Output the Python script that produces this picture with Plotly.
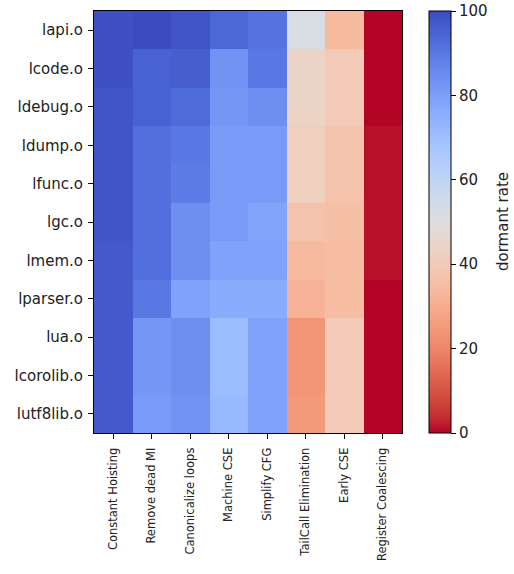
import plotly.graph_objects as go

files = ["lapi.o", "lcode.o", "ldebug.o", "ldump.o", "lfunc.o", "lgc.o",
         "lmem.o", "lparser.o", "lua.o", "lcorolib.o", "lutf8lib.o"]
passes = ["Constant Hoisting", "Remove dead MI", "Canonicalize loops", "Machine CSE",
          "Simplify CFG", "TailCall Elimination", "Early CSE", "Register Coalescing"]

constant_hoisting = [99, 99, 98, 98, 98, 98, 97, 97, 97, 97, 97]
remove_dead_mi = [100, 95, 95, 92, 92, 92, 92, 90, 82, 82, 81]
canonicalize_loops = [98, 96, 93, 90, 89, 84, 84, 79, 84, 84, 83]
machine_cse = [94, 83, 82, 81, 81, 81, 79, 76, 71, 71, 72]
simplify_cfg = [91, 90, 84, 81, 81, 78, 79, 76, 79, 79, 79]
tailcall_elim = [52, 44, 44, 42, 42, 37, 34, 32, 24, 24, 25]
early_cse = [34, 40, 40, 37, 37, 36, 35, 35, 40, 40, 40]
register_coalescing = [0, 0, 0, 1, 1, 1, 1, 0, 0, 0, 0]

columns = [constant_hoisting, remove_dead_mi, canonicalize_loops, machine_cse,
           simplify_cfg, tailcall_elim, early_cse, register_coalescing]
z = [[col[i] for col in columns] for i in range(len(files))]

coolwarm = [
    (59, 76, 192), (68, 90, 204), (77, 104, 215), (87, 117, 225), (98, 130, 234),
    (108, 142, 241), (119, 154, 247), (130, 165, 251), (141, 176, 254), (152, 185, 255),
    (163, 194, 255), (174, 201, 253), (184, 208, 249), (194, 213, 244), (204, 217, 238),
    (213, 219, 230), (221, 221, 221), (229, 216, 209), (236, 211, 197), (241, 204, 185),
    (245, 196, 173), (247, 187, 160), (247, 177, 148), (247, 166, 135), (244, 154, 123),
    (241, 141, 111), (236, 127, 99), (229, 112, 88), (222, 96, 77), (213, 80, 66),
    (203, 62, 56), (192, 40, 47), (180, 4, 38)]
coolwarm_r = list(reversed(coolwarm))
n = len(coolwarm_r)
colorscale = [[i / (n - 1), "rgb(%d,%d,%d)" % c] for i, c in enumerate(coolwarm_r)]

fig = go.Figure(go.Heatmap(
    z=z, x=passes, y=files, zmin=0, zmax=100, colorscale=colorscale,
    colorbar=dict(
        x=(429 - 94) / 308, xanchor="left", xref="paper", xpad=0,
        y=0.5, yanchor="middle", len=1, lenmode="fraction", ypad=0,
        thickness=22, thicknessmode="pixels",
        outlinewidth=1, outlinecolor="black",
        tickvals=[0, 20, 40, 60, 80, 100], ticks="outside", ticklen=5,
        tickcolor="black", tickfont=dict(size=15, color="#222"),
    ),
))

fig.add_annotation(
    text="dormant rate", textangle=-90, showarrow=False,
    xref="paper", yref="paper", x=(503 - 94) / 308, y=0.5,
    xanchor="center", yanchor="middle",
    font=dict(size=15, color="#222"),
)

fig.update_layout(
    width=514, height=574,
    margin=dict(l=94, r=112, t=11, b=141),
    paper_bgcolor="white", plot_bgcolor="white",
    font=dict(family="DejaVu Sans", color="#222"),
)
fig.update_xaxes(
    range=[-0.5, 7.5], tickangle=-90, tickfont=dict(size=11.5),
    ticks="outside", ticklen=5, tickcolor="black", ticklabelstandoff=4,
    showline=True, linecolor="black", linewidth=1, mirror=True, showgrid=False,
)
fig.update_yaxes(
    range=[10.5, -0.5], tickfont=dict(size=15),
    ticks="outside", ticklen=5, tickcolor="black", ticklabelstandoff=2,
    showline=True, linecolor="black", linewidth=1, mirror=True, showgrid=False,
)

fig.write_html("out.html")
